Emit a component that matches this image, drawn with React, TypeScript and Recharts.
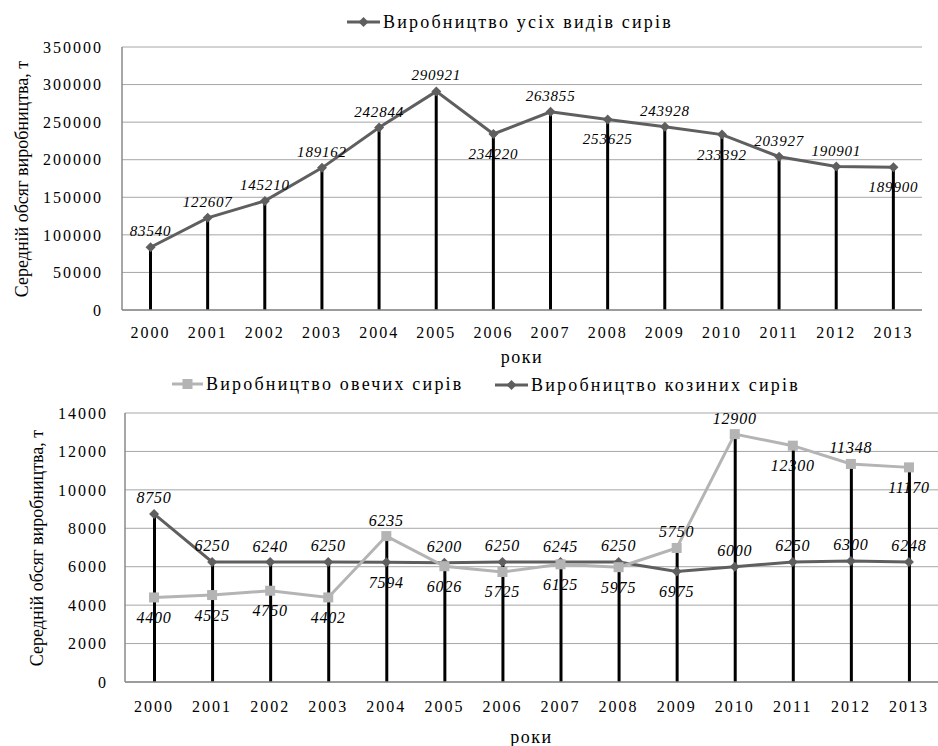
import React from "react";
import { Bar, CartesianGrid, ComposedChart, Label, Line, XAxis, YAxis } from "recharts";

const years = ["2000", "2001", "2002", "2003", "2004", "2005", "2006", "2007", "2008", "2009", "2010", "2011", "2012", "2013"];

// всі види сирів, т
const totalCheese = [83540, 122607, 145210, 189162, 242844, 290921, 234220, 263855, 253625, 243928, 233392, 203927, 190901, 189900];
// овечі та козині сири, т
const sheepCheese = [4400, 4525, 4750, 4402, 7594, 6026, 5725, 6125, 5975, 6975, 12900, 12300, 11348, 11170];
const goatCheese = [8750, 6250, 6240, 6250, 6235, 6200, 6250, 6245, 6250, 5750, 6000, 6250, 6300, 6248];

// підписи точок так, як вони стоять на рисунку (у 2004 та 2009 переставлені)
const totalLabels = totalCheese.map(String);
const sheepLabels = ["4400", "4525", "4750", "4402", "6235", "6026", "5725", "6125", "5975", "5750", "12900", "12300", "11348", "11170"];
const goatLabels = ["8750", "6250", "6240", "6250", "7594", "6200", "6250", "6245", "6250", "6975", "6000", "6250", "6300", "6248"];

const totalTicks = [0, 50000, 100000, 150000, 200000, 250000, 300000, 350000];
const smallTicks = [0, 2000, 4000, 6000, 8000, 10000, 12000, 14000];

const SERIF = "Liberation Serif, Times New Roman, DejaVu Serif, serif";
const DARK = "#5f5f5f";
const LIGHT = "#b4b4b4";
const GRID = "#a6a6a6";
const AXIS = "#8a8a8a";

// which labels sit under their point
const totalBelow = new Set([6, 8, 10, 13]);
const sheepAbove = new Set([4, 9, 10, 12]);
const goatBelow = new Set([4, 9]);

const topData = years.map((year, i) => ({ year, total: totalCheese[i] }));
const bottomData = years.map((year, i) => ({
  year,
  sheep: sheepCheese[i],
  goat: goatCheese[i],
  drop: Math.max(sheepCheese[i], goatCheese[i]),
}));

const tickStyle = { fill: "#000", fontSize: 16, fontFamily: SERIF, letterSpacing: 2 };

function marker(kind: string, cx: number, cy: number, color: string) {
  if (kind === "square") {
    return <rect x={cx - 5} y={cy - 5} width={10} height={10} fill={color} />;
  }
  return <polygon points={`${cx},${cy - 5} ${cx + 5},${cy} ${cx},${cy + 5} ${cx - 5},${cy}`} fill={color} />;
}

function pointRenderer(kind: string, color: string, texts: string[], isBelow: (i: number) => boolean, fontSize: number) {
  return (p: any) => {
    const { cx, cy, index } = p;
    if (cx == null || cy == null) return <g key={`e-${index}`} />;
    const dy = isBelow(index) ? 20 : -16;
    return (
      <g key={`p-${kind}-${index}`}>
        {marker(kind, cx, cy, color)}
        <text
          x={cx}
          y={cy + dy}
          textAnchor="middle"
          dominantBaseline="central"
          fontFamily={SERIF}
          fontStyle="italic"
          fontSize={fontSize}
          letterSpacing={0.8}
          fill="#000"
        >
          {texts[index]}
        </text>
      </g>
    );
  };
}

function yTitle(x: number, y: number) {
  return () => (
    <text
      x={x}
      y={y}
      transform={`rotate(-90 ${x} ${y})`}
      textAnchor="middle"
      dominantBaseline="central"
      fontFamily={SERIF}
      fontWeight="normal"
      fontSize={18}
      fill="#000"
    >
      Середній обсяг виробництва, т
    </text>
  );
}

function xTitle(dy: number) {
  return (props: any) => {
    const vb = props.viewBox || {};
    return (
      <text
        x={vb.x + vb.width / 2}
        y={vb.y + dy}
        textAnchor="middle"
        dominantBaseline="central"
        fontFamily={SERIF}
        fontWeight="normal"
        fontSize={18}
        letterSpacing={1.5}
        fill="#000"
      >
        роки
      </text>
    );
  };
}

function LegendEntry(props: { left: number; top: number; lineLen: number; kind: string; color: string; text: string }) {
  const { left, top, lineLen, kind, color, text } = props;
  return (
    <svg style={{ position: "absolute", left, top }} width={340} height={24}>
      <line x1={0} y1={12} x2={lineLen} y2={12} stroke={color} strokeWidth={3} />
      {marker(kind, lineLen / 2, 12, color)}
      <text x={lineLen + 3} y={12} dominantBaseline="central" fontFamily={SERIF} fontSize={18} letterSpacing={2.2} fill="#000">
        {text}
      </text>
    </svg>
  );
}

export default function App() {
  return (
    <div style={{ position: "absolute", left: 0, top: 0, width: 938, height: 746, background: "#fff", overflow: "hidden", fontFamily: SERIF }}>
      <LegendEntry left={347} top={10} lineLen={33} kind="diamond" color={DARK} text="Виробництво усіх видів сирів" />
      <LegendEntry left={172} top={372} lineLen={31} kind="square" color={LIGHT} text="Виробництво овечих сирів" />
      <LegendEntry left={495} top={373} lineLen={33} kind="diamond" color={DARK} text="Виробництво козиних сирів" />

      <div style={{ position: "absolute", left: 0, top: 0 }}>
        <ComposedChart width={938} height={370} data={topData} margin={{ top: 47, right: 16, bottom: 0, left: 0 }}>
          <CartesianGrid vertical={false} stroke={GRID} />
          <XAxis
            dataKey="year"
            interval={0}
            height={60}
            tickLine={false}
            tickSize={0}
            tickMargin={17}
            axisLine={{ stroke: AXIS, strokeWidth: 1.5 }}
            tick={tickStyle}
          >
            <Label content={xTitle(47)} />
          </XAxis>
          <YAxis
            domain={[0, 350000]}
            ticks={totalTicks}
            width={122}
            tickLine={false}
            tickSize={0}
            tickMargin={19}
            axisLine={{ stroke: AXIS, strokeWidth: 1.5 }}
            tick={tickStyle}
          >
            <Label content={yTitle(22, 179)} />
          </YAxis>
          <Line
            type="linear"
            dataKey="total"
            stroke={DARK}
            strokeWidth={3}
            dot={pointRenderer("diamond", DARK, totalLabels, (i) => totalBelow.has(i), 15)}
            activeDot={false}
            isAnimationActive={false}
          />
          <Bar dataKey="total" barSize={3} fill="#000" isAnimationActive={false} />
        </ComposedChart>
      </div>

      <div style={{ position: "absolute", left: 0, top: 370 }}>
        <ComposedChart width={938} height={376} data={bottomData} margin={{ top: 43, right: 0, bottom: 0, left: 0 }}>
          <CartesianGrid vertical={false} stroke={GRID} />
          <XAxis
            dataKey="year"
            interval={0}
            height={64}
            tickLine={false}
            tickSize={0}
            tickMargin={19}
            axisLine={{ stroke: AXIS, strokeWidth: 1.5 }}
            tick={tickStyle}
          >
            <Label content={xTitle(55)} />
          </XAxis>
          <YAxis
            domain={[0, 14000]}
            ticks={smallTicks}
            width={125}
            tickLine={false}
            tickSize={0}
            tickMargin={17}
            axisLine={{ stroke: AXIS, strokeWidth: 1.5 }}
            tick={tickStyle}
          >
            <Label content={yTitle(37, 178)} />
          </YAxis>
          <Line
            type="linear"
            dataKey="goat"
            stroke={DARK}
            strokeWidth={3}
            dot={pointRenderer("diamond", DARK, goatLabels, (i) => goatBelow.has(i), 16)}
            activeDot={false}
            isAnimationActive={false}
          />
          <Line
            type="linear"
            dataKey="sheep"
            stroke={LIGHT}
            strokeWidth={3}
            dot={pointRenderer("square", LIGHT, sheepLabels, (i) => !sheepAbove.has(i), 16)}
            activeDot={false}
            isAnimationActive={false}
          />
          <Bar dataKey="drop" barSize={3} fill="#000" isAnimationActive={false} />
        </ComposedChart>
      </div>
    </div>
  );
}
